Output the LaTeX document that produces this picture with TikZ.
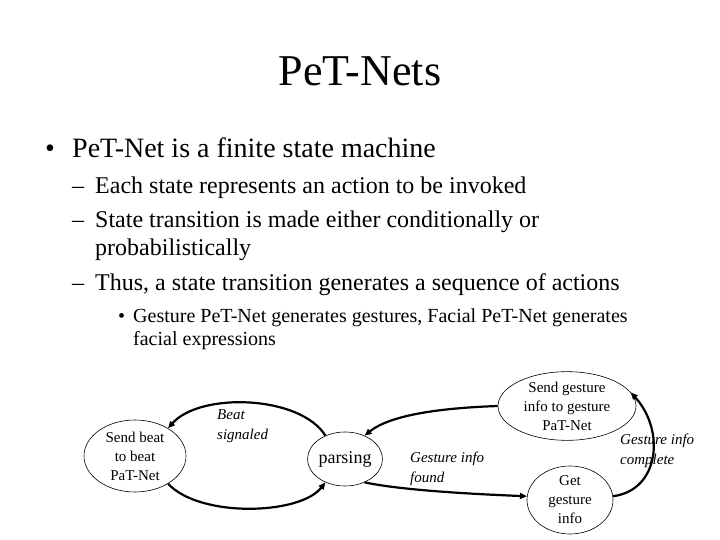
\documentclass[tikz,border=0pt]{standalone}
\usepackage{fontspec}
\setmainfont{Liberation Serif}
\usetikzlibrary{shapes.geometric,arrows.meta}
\begin{document}
\begin{tikzpicture}[x=1pt,y=-1pt,
  txt/.style={anchor=base west, inner sep=0pt},
  ttl/.style={anchor=base, inner sep=0pt, font=\fontsize{44}{48}\selectfont},
  lvone/.style={txt, font=\fontsize{28}{32}\selectfont},
  lvtwo/.style={txt, font=\fontsize{24}{28}\selectfont},
  lvthree/.style={txt, font=\fontsize{20}{23}\selectfont},
  state/.style={draw, ellipse, line width=0.6pt, inner sep=0pt, align=center, font=\fontsize{15}{19}\selectfont},
  lbl/.style={anchor=west, inner sep=0pt, align=left, font=\fontsize{15}{20}\selectfont\itshape},
  edge/.style={line width=2.2pt, -{Triangle[length=7pt,width=6pt]}}]
\useasboundingbox (0,0) rectangle (720,540);
\fill[white] (0,0) rectangle (720,540);
% text
\node[ttl] (title) at (360,86) {PeT-Nets};
\node[lvone] (b1) at (45,158) {•};
\node[lvone] (t1) at (72,158) {PeT-Net is a finite state machine};
\node[lvtwo] (d1) at (72,194) {–};
\node[lvtwo] (t2) at (95,194) {Each state represents an action to be invoked};
\node[lvtwo] (d2) at (72,227) {–};
\node[lvtwo] (t3) at (95,227) {State transition is made either conditionally or};
\node[lvtwo] (t3b) at (95,255) {probabilistically};
\node[lvtwo] (d3) at (72,290) {–};
\node[lvtwo] (t4) at (95,290) {Thus, a state transition generates a sequence of actions};
\node[lvthree] (b2) at (118,322) {•};
\node[lvthree] (t5) at (133,322) {Gesture PeT-Net generates gestures, Facial PeT-Net generates};
\node[lvthree] (t5b) at (133,345) {facial expressions};
% states
\node[state, minimum width=102pt, minimum height=72pt] (beat) at (135,456) {Send beat\\to beat\\PaT-Net};
\node[state, minimum width=66pt, minimum height=54pt, font=\fontsize{18}{20}\selectfont] (parse) at (345,459) {parsing};
\node[state, minimum width=138pt, minimum height=64pt] (sendg) at (567,406) {Send gesture\\info to gesture\\PaT-Net};
\node[state, minimum width=86pt, minimum height=66pt] (getg) at (570,500) {Get\\gesture\\info};
% labels
\node[lbl] (lbeat) at (217,426) {Beat\\signaled};
\node[lbl] (lfound) at (410,469) {Gesture info\\found};
\node[lbl] (lcomp) at (620,451) {Gesture info\\complete};
% edges
\draw[edge] (parse.130) .. controls (300,395) and (200,392) .. (beat.40);
\draw[edge] (beat.-40) .. controls (200,518) and (300,515) .. (parse.-130);
\draw[edge] (sendg.west) .. controls (440,408) and (390,415) .. (parse.50);
\draw[edge] (parse.-50) .. controls (400,490) and (470,494) .. (getg.175);
\draw[edge] (getg.5) .. controls (660,490) and (665,430) .. (sendg.12);
\end{tikzpicture}
\end{document}
